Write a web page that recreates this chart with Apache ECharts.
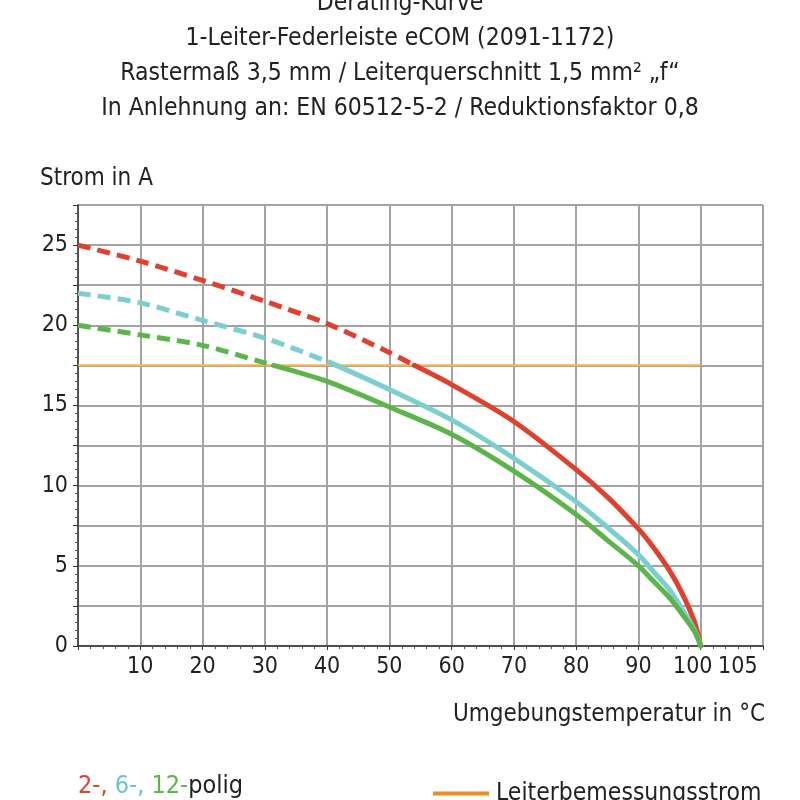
<!DOCTYPE html>
<html>
<head>
<meta charset="utf-8">
<script src="https://cdn.jsdelivr.net/npm/echarts@6/dist/echarts.min.js"></script>
<style>
  html, body { margin: 0; padding: 0; background: #fff; }
  #chart { width: 800px; height: 800px; }
</style>
</head>
<body>
<div id="chart"></div>
<script>
// Temperatur (x) und Strom (y) je Kurve
const tempRed = [0, 10, 20, 30, 40, 50, 54, 60, 70, 80, 85, 90, 92.5, 95, 97, 99, 100]
const currRed = [25, 24.0, 22.8, 21.5, 20.1, 18.3, 17.5, 16.3, 14.0, 11.0, 9.3, 7.3, 6.1, 4.7, 3.3, 1.5, 0]
const tempCyan = [0, 10, 20, 30, 40, 41.5, 50, 60, 70, 80, 85, 90, 92.5, 95, 97, 99, 100]
const currCyan = [22.0, 21.4, 20.3, 19.2, 17.75, 17.5, 16.0, 14.1, 11.7, 9.0, 7.4, 5.7, 4.6, 3.5, 2.3, 1.0, 0]
const tempGreen = [0, 10, 20, 30, 31.4, 40, 50, 60, 70, 80, 85, 90, 92.5, 95, 97, 99, 100]
const currGreen = [20.0, 19.4, 18.75, 17.65, 17.5, 16.5, 14.9, 13.2, 10.9, 8.2, 6.6, 5.0, 4.0, 3.0, 2.0, 0.9, 0]
// Grenze gestrichelt / durchgezogen (Schnitt mit Leiterbemessungsstrom)
const splitRed = 54
const splitCyan = 41.5
const splitGreen = 31.4
// Leiterbemessungsstrom
const ratedTemp = [0, 100]
const ratedCurr = [17.5, 17.5]
// Achsbeschriftungen
const xLabels = [10, 20, 30, 40, 50, 60, 70, 80, 90, 100, 105]

const titleLines = [
  'Derating-Kurve',
  '1-Leiter-Federleiste eCOM (2091-1172)',
  'Rastermaß 3,5 mm / Leiterquerschnitt 1,5 mm² „f“',
  'In Anlehnung an: EN 60512-5-2 / Reduktionsfaktor 0,8'
]

const FONT = '"Liberation Sans Narrow", "DejaVu Sans Condensed", "Roboto Condensed", "Arial Narrow", Roboto, sans-serif'

const pairs = (xs, ys) => xs.map((x, i) => [x, ys[i]])

const curve = (xs, ys, split, color) => {
  const pts = pairs(xs, ys)
  const base = {
    type: 'line',
    smooth: 0.3,
    showSymbol: false,
    symbol: 'none',
    silent: true,
    z: 3
  }
  return [
    {
      ...base,
      data: pts.filter(p => p[0] <= split),
      lineStyle: { color: color, width: 5, type: [13, 7], cap: 'butt' }
    },
    {
      ...base,
      data: pts.filter(p => p[0] >= split),
      lineStyle: { color: color, width: 5, cap: 'round' }
    }
  ]
}

const myChart = echarts.init(document.getElementById('chart'))

const option = {
  animation: false,
  backgroundColor: '#ffffff',
  textStyle: { fontFamily: FONT },
  title: {
    text: titleLines.join('\n'),
    left: 'center',
    top: -19,
    textStyle: {
      fontFamily: FONT,
      fontSize: 24.5,
      fontWeight: 'normal',
      color: '#222',
      lineHeight: 35
    }
  },
  grid: {
    left: 78,
    right: 37,
    top: 205,
    bottom: 154
  },
  legend: {
    left: 428,
    top: 776,
    itemWidth: 56,
    itemHeight: 4,
    itemGap: 10,
    icon: 'rect',
    data: [{ name: 'Leiterbemessungsstrom', itemStyle: { color: '#f08a24' } }],
    textStyle: { fontFamily: FONT, fontSize: 24.5, color: '#222', padding: [0, 0, 0, 2] }
  },
  xAxis: {
    type: 'value',
    min: 0,
    max: 110,
    interval: 10,
    axisLine: { lineStyle: { color: '#333', width: 1.5 } },
    axisTick: { show: true, length: 4, lineStyle: { color: '#333' } },
    minorTick: { show: true, splitNumber: 5, length: 3, lineStyle: { color: '#555' } },
    axisLabel: {
      customValues: xLabels,
      hideOverlap: false,
      margin: 10,
      fontFamily: FONT,
      fontSize: 23,
      color: '#222',
      formatter: v => (v === 100 ? '{l|100}' : v === 105 ? '{r|105}' : String(v)),
      rich: {
        l: { fontFamily: FONT, fontSize: 23, color: '#222', padding: [0, 16, 0, 0] },
        r: { fontFamily: FONT, fontSize: 23, color: '#222', padding: [0, 0, 0, 12] }
      }
    },
    splitLine: { show: true, lineStyle: { color: '#a3a3a3', width: 2 } }
  },
  yAxis: {
    type: 'value',
    min: 0,
    max: 27.5,
    interval: 2.5,
    axisLine: { show: true, lineStyle: { color: '#333', width: 1.5 } },
    axisTick: { show: true, length: 5, lineStyle: { color: '#333' } },
    minorTick: { show: true, splitNumber: 5, length: 3, lineStyle: { color: '#555' } },
    axisLabel: {
      margin: 10,
      fontFamily: FONT,
      fontSize: 23,
      color: '#222',
      formatter: v => (v % 5 === 0 ? String(v) : '')
    },
    splitLine: { show: true, lineStyle: { color: '#a3a3a3', width: 2 } }
  },
  graphic: [
    {
      type: 'text',
      left: 40,
      top: 167,
      style: { text: 'Strom in A', fontFamily: FONT, fontSize: 24, fill: '#222' }
    },
    {
      type: 'text',
      right: 35,
      top: 703,
      style: { text: 'Umgebungstemperatur in °C', fontFamily: FONT, fontSize: 24, fill: '#222' }
    },
    {
      type: 'text',
      left: 78,
      top: 774,
      style: {
        text: '{r|2-, }{c|6-, }{g|12-}{k|polig}',
        fontFamily: FONT,
        fontSize: 25,
        rich: {
          r: { fill: '#e0402e', fontFamily: FONT, fontSize: 25 },
          c: { fill: '#6cc6c8', fontFamily: FONT, fontSize: 25 },
          g: { fill: '#5cb548', fontFamily: FONT, fontSize: 25 },
          k: { fill: '#222', fontFamily: FONT, fontSize: 25 }
        }
      }
    }
  ],
  series: [
    {
      name: 'Leiterbemessungsstrom',
      type: 'line',
      data: pairs(ratedTemp, ratedCurr),
      showSymbol: false,
      symbol: 'none',
      silent: true,
      z: 2,
      lineStyle: { color: '#f5b450', width: 2 }
    },
    ...curve(tempRed, currRed, splitRed, '#e0402e'),
    ...curve(tempCyan, currCyan, splitCyan, '#7ccfd0'),
    ...curve(tempGreen, currGreen, splitGreen, '#5cb548')
  ]
}

myChart.setOption(option, true)
addEventListener('resize', () => {
  myChart.resize()
})
</script>
</body>
</html>
